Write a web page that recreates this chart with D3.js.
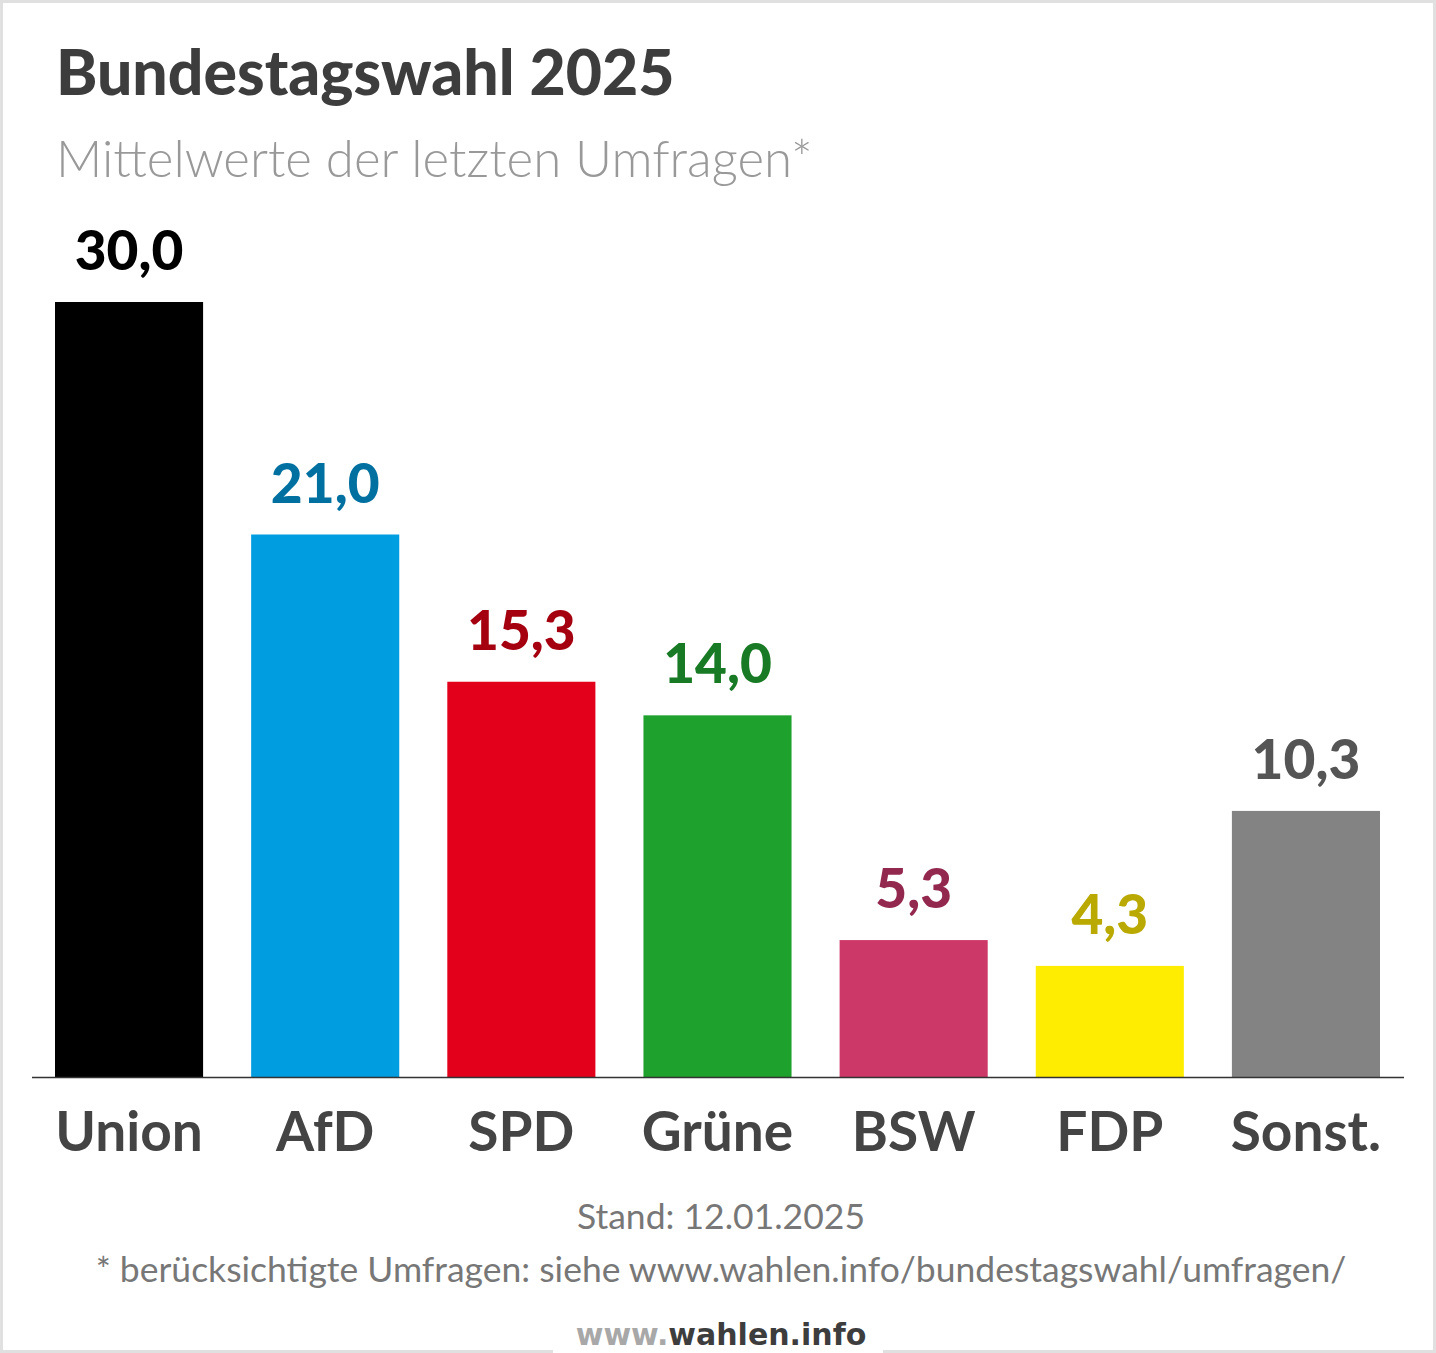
<!DOCTYPE html>
<html><head><meta charset="utf-8">
<script src="https://cdn.jsdelivr.net/npm/d3@7"></script>
<style>
html,body{margin:0;padding:0;background:#fff;}
svg{display:block;}
</style></head>
<body>
<svg id="chart" width="1436" height="1353"></svg>
<script>
const categories = ["Union","AfD","SPD","Grüne","BSW","FDP","Sonst."];
const values = [30.0,21.0,15.3,14.0,5.3,4.3,10.3];
const valueLabels = ["30,0","21,0","15,3","14,0","5,3","4,3","10,3"];
const barColors = ["#000000","#009ee0","#e3001b","#1fa12e","#cc3868","#ffed00","#838383"];
const labelColors = ["#000000","#0070a0","#a5000f","#187a24","#93284f","#b9a900","#555555"];

const W = 1436, H = 1353;
const svg = d3.select("#chart");

// border
svg.append("rect").attr("x",1.5).attr("y",1.5).attr("width",W-3).attr("height",H-3)
  .attr("fill","#fff").attr("stroke","#e0e0e0").attr("stroke-width",3);

// title
svg.append("text").attr("x",56).attr("y",95)
  .attr("font-family","Lato").attr("font-weight",900).attr("font-size",62.5)
  .attr("fill","#3d3d3d").text("Bundestagswahl 2025");
svg.append("text").attr("x",56).attr("y",177)
  .attr("font-family","Lato").attr("font-weight",300).attr("font-size",51)
  .attr("fill","#999999").text("Mittelwerte der letzten Umfragen*");

const baseline = 1077;
const x = d3.scaleBand().domain(categories).range([55,1380]).paddingInner(0.245).paddingOuter(0);
const y = d3.scaleLinear().domain([0,30]).range([baseline,302]);

svg.selectAll("rect.bar").data(values).join("rect").attr("class","bar")
  .attr("x",(d,i)=>x(categories[i])).attr("width",x.bandwidth())
  .attr("y",d=>y(d)).attr("height",d=>baseline-y(d))
  .attr("fill",(d,i)=>barColors[i]);

svg.selectAll("text.val").data(values).join("text").attr("class","val")
  .attr("x",(d,i)=>x(categories[i])+x.bandwidth()/2)
  .attr("y",d=>y(d)-32)
  .attr("text-anchor","middle")
  .attr("font-family","Lato").attr("font-weight",900).attr("font-size",55)
  .attr("fill",(d,i)=>labelColors[i]).text((d,i)=>valueLabels[i]);

// axis
const axis = svg.append("g").attr("transform",`translate(0,${baseline})`)
  .call(d3.axisBottom(x).tickSize(0).tickPadding(0));
axis.select(".domain").remove();
axis.append("line").attr("x1",32).attr("x2",1404).attr("y1",0.5).attr("y2",0.5)
  .attr("stroke","#333").attr("stroke-width",1.5);
axis.selectAll(".tick text")
  .attr("dy",null).attr("y",74)
  .attr("font-family","Lato").attr("font-weight",700).attr("font-size",55)
  .attr("fill","#444");

// footer
svg.append("text").attr("x",721).attr("y",1229).attr("text-anchor","middle")
  .attr("font-family","Lato").attr("font-size",35.5).attr("fill","#777")
  .text("Stand: 12.01.2025");
svg.append("text").attr("x",721).attr("y",1282).attr("text-anchor","middle")
  .attr("font-family","Lato").attr("font-size",35.5).attr("fill","#777")
  .text("* berücksichtigte Umfragen: siehe www.wahlen.info/bundestagswahl/umfragen/");

// brand
svg.append("rect").attr("x",553).attr("y",1326).attr("width",330).attr("height",27).attr("fill","#fff");
const brand = svg.append("text").attr("x",721).attr("y",1345).attr("text-anchor","middle")
  .attr("font-family","DejaVu Sans").attr("font-weight",700).attr("font-size",30);
brand.append("tspan").attr("fill","#a8a8a8").text("www.");
brand.append("tspan").attr("fill","#3d3d3d").text("wahlen.info");
</script>
</body></html>
